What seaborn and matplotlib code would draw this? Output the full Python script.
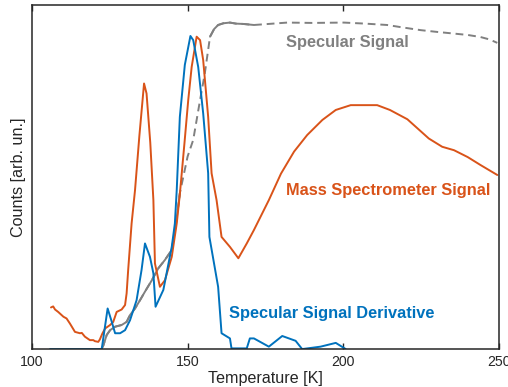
import numpy as np
import pandas as pd
import seaborn as sns
import matplotlib
matplotlib.use("Agg")
import matplotlib.pyplot as plt

# Specular signal (gray, dashed)
spec_T = [122.4, 122.9, 124.0, 125.1, 126.7, 128.8, 130.4, 131.5, 133.1, 134.7, 136.3, 138.5, 140.6, 142.7,
          144.9, 146.2, 147.5,
          150.0, 151.8, 154.0, 155.5, 157.2, 158.5, 159.8, 161.5, 163.6, 165.5, 167.9, 171.3,
          176.0, 182.0, 190.0, 200.2, 207.0, 214.1, 219.0, 224.9, 230.0, 235.6, 240.0, 244.1, 247.0, 249.5]
spec_y = [0.002, 0.010, 0.041, 0.055, 0.065, 0.070, 0.079, 0.099, 0.118, 0.142, 0.167, 0.200, 0.235, 0.259,
          0.288, 0.360, 0.453,
          0.560, 0.608, 0.724, 0.800, 0.908, 0.930, 0.942, 0.947, 0.949, 0.946, 0.945, 0.942,
          0.945, 0.949, 0.948, 0.949, 0.946, 0.942, 0.935, 0.927, 0.922, 0.917, 0.913, 0.907, 0.900, 0.890]

# Mass spectrometer signal (orange)
mass_T = [106.1, 106.8, 107.4, 108.4, 110.1, 111.1, 112.2, 113.8, 115.4, 116.0, 117.0, 118.6, 119.7, 120.2,
          121.3, 121.8, 122.6, 123.5, 125.1, 126.1, 127.2, 128.8, 129.9, 130.4, 130.9,
          132.0, 133.1, 134.5, 136.0, 136.8, 138.0, 139.0, 139.5, 141.1, 142.7, 144.9,
          146.5, 147.5, 149.0, 150.2, 151.3, 152.9, 154.0, 155.0, 156.6, 157.7, 159.3, 160.9, 163.6,
          166.3, 169.0, 171.3, 176.1, 180.0, 184.2, 188.4, 193.3, 197.6, 202.4, 210.9, 215.0, 220.6,
          227.5, 231.8, 235.6, 240.0, 244.1, 249.5]
mass_y = [0.121, 0.124, 0.115, 0.108, 0.094, 0.089, 0.074, 0.050, 0.046, 0.047, 0.036, 0.026, 0.026, 0.023,
          0.021, 0.028, 0.045, 0.060, 0.070, 0.079, 0.108, 0.115, 0.128, 0.162, 0.230,
          0.365, 0.462, 0.620, 0.772, 0.743, 0.600, 0.433, 0.249, 0.181, 0.200, 0.268,
          0.365, 0.450, 0.600, 0.724, 0.820, 0.908, 0.898, 0.840, 0.675, 0.511, 0.433, 0.326, 0.297,
          0.264, 0.307, 0.346, 0.433, 0.510, 0.574, 0.622, 0.666, 0.695, 0.709, 0.709, 0.695, 0.668,
          0.612, 0.588, 0.578, 0.558, 0.535, 0.506]

# Specular signal derivative (blue)
deriv_T = [105.8, 110.0, 115.0, 120.0, 122.4, 124.3, 125.6, 126.7, 128.3, 129.9, 131.5, 133.6, 135.2, 136.3,
           137.9, 139.0, 139.7, 142.2, 144.9, 145.9, 146.5, 147.5, 149.1, 150.9, 151.8, 153.4, 155.0,
           156.6, 157.0, 159.8, 160.9, 163.6, 164.1, 169.0, 170.0, 171.3, 176.1, 180.4, 184.7, 186.8,
           192.7, 197.6, 200.8]
deriv_y = [0.0, 0.0, 0.0, 0.0, 0.0, 0.118, 0.080, 0.046, 0.046, 0.055, 0.084, 0.142, 0.230, 0.307,
           0.268, 0.220, 0.123, 0.172, 0.297, 0.365, 0.462, 0.675, 0.826, 0.910, 0.898, 0.820, 0.685,
           0.511, 0.326, 0.181, 0.046, 0.031, 0.002, 0.002, 0.031, 0.031, 0.007, 0.038, 0.024, 0.0,
           0.007, 0.018, 0.0]

x_ticks = [100, 150, 200, 250]

gray = "#808080"
blue = "#0072BD"
orange = "#D95319"

sns.set_style("ticks")
plt.rcParams["font.family"] = ["Liberation Sans", "DejaVu Sans"]

fig = plt.figure(figsize=(5.08, 3.87), dpi=100)
ax = fig.add_axes([0.063, 0.098, 0.919, 0.889])

spec = pd.DataFrame({"T": spec_T, "y": spec_y})
mass = pd.DataFrame({"T": mass_T, "y": mass_y})
der = pd.DataFrame({"T": deriv_T, "y": deriv_y})

sns.lineplot(data=spec, x="T", y="y", ax=ax, color=gray, lw=1.4, linestyle=(0, (4, 2.5)), sort=False)
# noisy portions render as solid in the reference
solid1 = spec[spec["T"] <= 147.5]
solid2 = spec[(spec["T"] >= 157.2) & (spec["T"] <= 171.3)]
sns.lineplot(data=solid1, x="T", y="y", ax=ax, color=gray, lw=1.4, sort=False)
sns.lineplot(data=solid2, x="T", y="y", ax=ax, color=gray, lw=1.4, sort=False)
sns.lineplot(data=mass, x="T", y="y", ax=ax, color=orange, lw=1.4, sort=False)
sns.lineplot(data=der, x="T", y="y", ax=ax, color=blue, lw=1.4, sort=False)

ax.set_xlim(100, 250)
ax.set_ylim(0, 1)
ax.set_xticks(x_ticks)
ax.set_xticklabels([str(t) for t in x_ticks])
ax.set_yticks([])
ax.tick_params(axis="x", direction="in", length=4, width=1, top=True, bottom=True,
               labelsize=10.2, pad=4.5, colors="#262626")
for s in ax.spines.values():
    s.set_visible(True)
    s.set_linewidth(1.1)
    s.set_color("#262626")

ax.set_xlabel("Temperature [K]", fontsize=11.6, color="#262626", labelpad=1)
ax.set_ylabel("Counts [arb. un.]", fontsize=11.6, color="#262626", labelpad=4)

ax.text(181.5, 0.890, "Specular Signal", color=gray, fontsize=11.8, fontweight="bold",
        ha="left", va="center")
ax.text(181.5, 0.462, "Mass Spectrometer Signal", color=orange, fontsize=11.8, fontweight="bold",
        ha="left", va="center")
ax.text(163.2, 0.102, "Specular Signal Derivative", color=blue, fontsize=11.8, fontweight="bold",
        ha="left", va="center")

fig.savefig("out.png", dpi=100)
